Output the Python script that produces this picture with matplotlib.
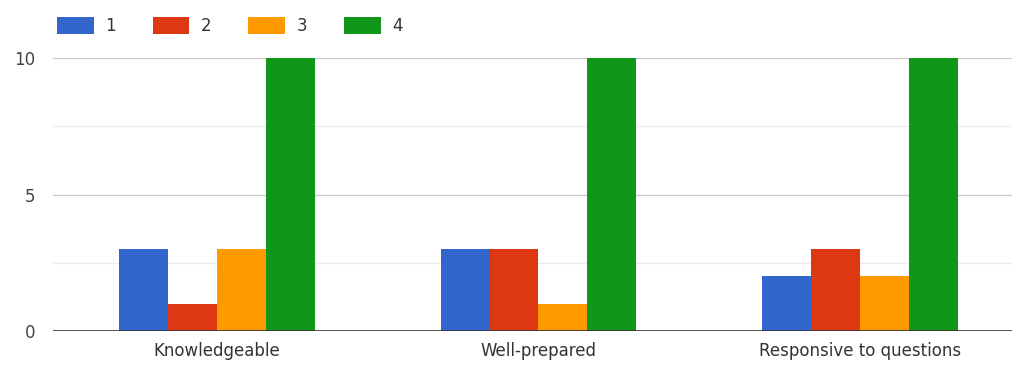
import numpy as np
import matplotlib.pyplot as plt
from matplotlib.patches import Patch

categories = ['Knowledgeable', 'Well-prepared', 'Responsive to questions']
series_names = ['1', '2', '3', '4']
counts_1 = [3, 3, 2]
counts_2 = [1, 3, 3]
counts_3 = [3, 1, 2]
counts_4 = [10, 10, 10]
colours = ['#3366cc', '#dc3912', '#ff9900', '#109618']

plt.rcParams['font.family'] = ['DejaVu Sans']
fs = 12

fig = plt.figure(figsize=(10.15, 3.68), dpi=100)
ax = fig.add_axes([53/1015, 37/368, 959/1015, 273/368])

x = np.arange(len(categories))
w = 0.152
all_series = [counts_1, counts_2, counts_3, counts_4]
for i, (vals, c) in enumerate(zip(all_series, colours)):
    ax.bar(x + (i - 1.5) * w, vals, width=w, color=c, zorder=3, linewidth=0)

ax.set_xlim(-0.51, 2.473)
ax.set_ylim(0, 10)
ax.set_yticks([0, 5, 10])
ax.set_yticks([2.5, 7.5], minor=True)
ax.grid(axis='y', which='major', color='#cccccc', linewidth=1, zorder=0)
ax.grid(axis='y', which='minor', color='#ebebeb', linewidth=1, zorder=0)
ax.axhline(0, color='#333333', linewidth=1.2, zorder=4)
ax.set_xticks(x)
ax.set_xticklabels(categories, fontsize=fs, color='#333333')
ax.tick_params(axis='both', which='both', length=0)
ax.tick_params(axis='y', pad=13, labelsize=fs, labelcolor='#444444')
ax.tick_params(axis='x', pad=8)
for s in ax.spines.values():
    s.set_visible(False)

handles = [Patch(facecolor=c, edgecolor='none') for c in colours]
fig.legend(handles, series_names, loc='upper left', bbox_to_anchor=(57/1015, 1 - 17/368),
           ncol=4, frameon=False, fontsize=fs, handlelength=2.2, handleheight=1.15,
           handletextpad=0.7, columnspacing=2.2, borderpad=0, borderaxespad=0,
           labelcolor='#333333')

fig.savefig('out.png', dpi=100, facecolor='white')
